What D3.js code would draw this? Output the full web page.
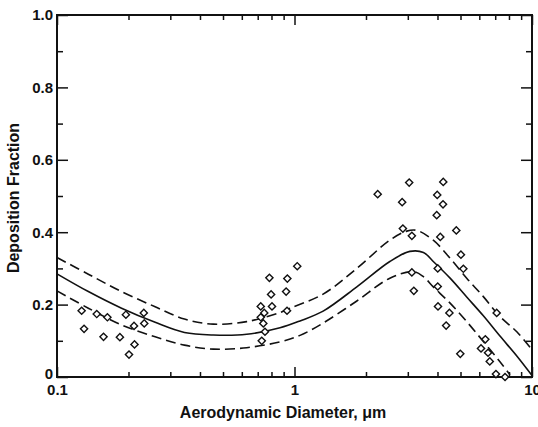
<!DOCTYPE html>
<html>
<head>
<meta charset="utf-8">
<script src="https://cdn.jsdelivr.net/npm/d3@7"></script>
<style>
  body { margin: 0; background: #fff; }
  svg { display: block; }
  .lbl { font-family: "Liberation Sans", Arial, sans-serif; font-weight: bold; fill: #111; }
</style>
</head>
<body>
<div id="chart"></div>
<script>
// curve data (diameter in um, deposition fraction)
var solidDiam = [0.1, 0.1355, 0.187, 0.259, 0.344, 0.455, 0.629, 0.869, 1.055, 1.32, 1.83, 2.52, 3.06, 3.49, 3.84, 4.52, 5.31, 6.24, 7.33, 8.63, 10];
var solidFrac = [0.285, 0.236, 0.190, 0.151, 0.123, 0.116, 0.118, 0.136, 0.155, 0.182, 0.249, 0.319, 0.347, 0.344, 0.319, 0.273, 0.221, 0.169, 0.113, 0.058, 0.004];

var upperDiam = [0.1, 0.1355, 0.187, 0.259, 0.344, 0.455, 0.629, 0.869, 0.957, 1.32, 1.83, 2.52, 2.97, 3.27, 3.84, 4.52, 5.31, 6.24, 7.33, 8.63, 10];
var upperFrac = [0.330, 0.284, 0.236, 0.194, 0.160, 0.146, 0.153, 0.178, 0.190, 0.229, 0.300, 0.378, 0.403, 0.405, 0.378, 0.328, 0.273, 0.222, 0.167, 0.125, 0.075];

var lowerDiam = [0.1, 0.1355, 0.187, 0.259, 0.344, 0.455, 0.629, 0.869, 1.055, 1.32, 1.83, 2.52, 3.16, 3.49, 3.84, 4.52, 5.31, 6.24, 7.33, 8.08];
var lowerFrac = [0.238, 0.190, 0.144, 0.111, 0.088, 0.077, 0.081, 0.097, 0.115, 0.149, 0.210, 0.273, 0.291, 0.277, 0.249, 0.204, 0.153, 0.098, 0.042, 0.006];

// measured points
var pointDiam = [0.127, 0.130, 0.147, 0.157, 0.163, 0.184, 0.195, 0.201, 0.211, 0.212, 0.232, 0.233,
  1.027, 0.784, 0.933, 0.797, 0.922, 0.721, 0.804, 0.746, 0.721, 0.739, 0.93, 0.751, 0.728,
  3.04, 4.23, 2.24, 2.84, 3.99, 4.22, 3.97, 4.80, 2.86, 3.12, 4.11, 5.02, 5.14, 4.01, 3.12, 4.01, 3.18,
  4.02, 4.49, 4.35, 7.10, 6.36, 6.10, 4.99, 6.53, 6.64, 7.05, 7.70];
var pointFrac = [0.183, 0.133, 0.174, 0.111, 0.165, 0.110, 0.172, 0.062, 0.141, 0.090, 0.177, 0.148,
  0.306, 0.274, 0.272, 0.228, 0.236, 0.195, 0.195, 0.177, 0.165, 0.148, 0.183, 0.125, 0.100,
  0.537, 0.539, 0.505, 0.483, 0.503, 0.477, 0.447, 0.405, 0.410, 0.390, 0.387, 0.338, 0.299, 0.300, 0.289, 0.250, 0.238,
  0.195, 0.177, 0.142, 0.177, 0.104, 0.079, 0.064, 0.067, 0.043, 0.008, 0.0];

var xMajor = [0.1, 1, 10];
var xMinor = [0.2, 0.3, 0.4, 0.5, 0.6, 0.7, 0.8, 0.9, 2, 3, 4, 5, 6, 7, 8, 9];
var yMajor = [0, 0.2, 0.4, 0.6, 0.8, 1.0];
var yMinor = [0.1, 0.3, 0.5, 0.7, 0.9];

var svgWidth = 538, svgHeight = 427;
var plotLeft = 57, plotRight = 532, plotTop = 15, plotBottom = 377;

var svg = d3.select("#chart").append("svg")
    .attr("width", svgWidth)
    .attr("height", svgHeight);

var x = d3.scaleLog().domain([0.1, 10]).range([plotLeft, plotRight]);
var y = d3.scaleLinear().domain([0, 1]).range([plotBottom, plotTop]);

function styleAxis(g) {
    g.select(".domain").remove();
    g.selectAll(".tick line").attr("stroke", "#111").attr("stroke-width", 1.5);
}

// bottom axis, inward ticks
svg.append("g")
    .attr("transform", "translate(0," + plotBottom + ")")
    .call(d3.axisBottom(x).tickValues(xMinor).tickSize(-5).tickFormat(""))
    .call(styleAxis);
svg.append("g")
    .attr("transform", "translate(0," + plotBottom + ")")
    .call(d3.axisBottom(x).tickValues(xMajor).tickSize(-10).tickPadding(7)
        .tickFormat(function (d) { return d === 0.1 ? "0.1" : String(d); }))
    .call(styleAxis)
    .selectAll("text").attr("class", "lbl").style("font-size", "15px");

// top axis
svg.append("g")
    .attr("transform", "translate(0," + plotTop + ")")
    .call(d3.axisTop(x).tickValues(xMinor).tickSize(-5).tickFormat(""))
    .call(styleAxis);
svg.append("g")
    .attr("transform", "translate(0," + plotTop + ")")
    .call(d3.axisTop(x).tickValues(xMajor).tickSize(-10).tickFormat(""))
    .call(styleAxis);

// left axis
svg.append("g")
    .attr("transform", "translate(" + plotLeft + ",0)")
    .call(d3.axisLeft(y).tickValues(yMinor).tickSize(-6).tickFormat(""))
    .call(styleAxis);
svg.append("g")
    .attr("transform", "translate(" + plotLeft + ",0)")
    .call(d3.axisLeft(y).tickValues(yMajor).tickSize(-11).tickPadding(4)
        .tickFormat(function (d) { return d === 0 ? "0" : d3.format(".1f")(d); }))
    .call(styleAxis)
    .selectAll("text").attr("class", "lbl").style("font-size", "15px")
    .attr("dy", function (d) { return d === 0 ? "0.1em" : "0.32em"; });

// right axis
svg.append("g")
    .attr("transform", "translate(" + plotRight + ",0)")
    .call(d3.axisRight(y).tickValues(yMinor).tickSize(-6).tickFormat(""))
    .call(styleAxis);
svg.append("g")
    .attr("transform", "translate(" + plotRight + ",0)")
    .call(d3.axisRight(y).tickValues(yMajor).tickSize(-11).tickFormat(""))
    .call(styleAxis);

// frame
svg.append("rect")
    .attr("x", plotLeft).attr("y", plotTop)
    .attr("width", plotRight - plotLeft).attr("height", plotBottom - plotTop)
    .attr("fill", "none").attr("stroke", "#111").attr("stroke-width", 2);

// curves
var line = d3.line()
    .x(function (d) { return x(d[0]); })
    .y(function (d) { return y(d[1]); })
    .curve(d3.curveCatmullRom.alpha(0.5));

function zip(a, b) { return a.map(function (v, i) { return [v, b[i]]; }); }

svg.append("path")
    .attr("d", line(zip(upperDiam, upperFrac)))
    .attr("fill", "none").attr("stroke", "#111").attr("stroke-width", 1.6)
    .attr("stroke-dasharray", "10,5");
svg.append("path")
    .attr("d", line(zip(lowerDiam, lowerFrac)))
    .attr("fill", "none").attr("stroke", "#111").attr("stroke-width", 1.6)
    .attr("stroke-dasharray", "10,5");
svg.append("path")
    .attr("d", line(zip(solidDiam, solidFrac)))
    .attr("fill", "none").attr("stroke", "#111").attr("stroke-width", 1.6);

// diamond markers
var diamond = d3.symbol().type(d3.symbolSquare).size(26);
svg.selectAll("path.pt")
    .data(zip(pointDiam, pointFrac))
    .enter().append("path")
    .attr("class", "pt")
    .attr("d", diamond)
    .attr("transform", function (d) { return "translate(" + x(d[0]) + "," + y(d[1]) + ") rotate(45)"; })
    .attr("fill", "#fff")
    .attr("stroke", "#111")
    .attr("stroke-width", 1.4);

// axis titles
svg.append("text")
    .attr("class", "lbl")
    .attr("x", 283).attr("y", 418)
    .attr("text-anchor", "middle")
    .style("font-size", "16px")
    .text("Aerodynamic Diameter, \u03bcm");

svg.append("text")
    .attr("class", "lbl")
    .attr("transform", "translate(19,198) rotate(-90)")
    .attr("text-anchor", "middle")
    .style("font-size", "16px")
    .text("Deposition Fraction");
</script>
</body>
</html>
